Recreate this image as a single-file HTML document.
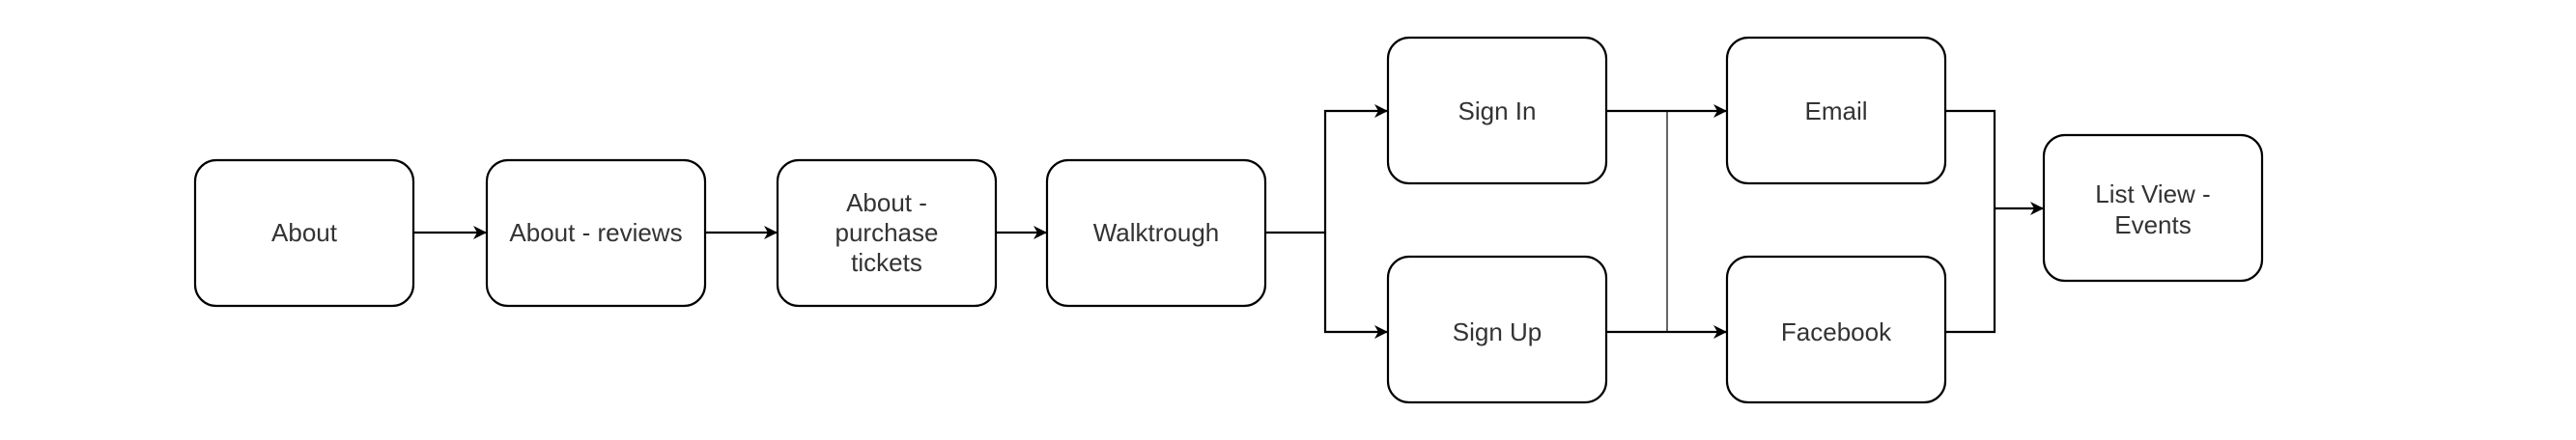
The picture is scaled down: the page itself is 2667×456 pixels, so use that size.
<!DOCTYPE html>
<html><head><meta charset="utf-8"><style>
html,body{margin:0;padding:0;background:#fff;}
svg{display:block;}
text{font-family:"Liberation Sans",Arial,sans-serif;font-size:26px;fill:#333;text-anchor:middle;}
</style></head><body>
<svg width="2667" height="456" viewBox="0 0 2667 456" xmlns="http://www.w3.org/2000/svg">
<defs>
<marker id="a" markerWidth="14" markerHeight="14" refX="13" refY="7" orient="auto" markerUnits="userSpaceOnUse">
<path d="M0,0 L14,7 L0,14 L4,7 Z" fill="#000"/>
</marker>
</defs>
<g fill="#fff" stroke="#000" stroke-width="2.2">
<rect x="202" y="166" width="226" height="151" rx="22"/>
<rect x="504" y="166" width="226" height="151" rx="22"/>
<rect x="805" y="166" width="226" height="151" rx="22"/>
<rect x="1084" y="166" width="226" height="151" rx="22"/>
<rect x="1437" y="39" width="226" height="151" rx="22"/>
<rect x="1437" y="266" width="226" height="151" rx="22"/>
<rect x="1788" y="39" width="226" height="151" rx="22"/>
<rect x="1788" y="266" width="226" height="151" rx="22"/>
<rect x="2116" y="140" width="226" height="151" rx="22"/>
</g>
<g stroke="#000" stroke-width="2.2" fill="none">
<line x1="428" y1="241" x2="503" y2="241" marker-end="url(#a)"/>
<line x1="730" y1="241" x2="804" y2="241" marker-end="url(#a)"/>
<line x1="1031" y1="241" x2="1083" y2="241" marker-end="url(#a)"/>
<polyline points="1310,241 1372,241 1372,115 1436,115" marker-end="url(#a)"/>
<polyline points="1372,241 1372,344 1436,344" marker-end="url(#a)"/>
<line x1="1663" y1="115" x2="1787" y2="115" marker-end="url(#a)"/>
<line x1="1663" y1="344" x2="1787" y2="344" marker-end="url(#a)"/>
<line x1="1726" y1="115" x2="1726" y2="344" stroke-width="1.2"/>
<polyline points="2014,115 2065,115 2065,344 2014,344"/>
<line x1="2065" y1="216" x2="2115" y2="216" marker-end="url(#a)"/>
</g>
<text x="315" y="250">About</text>
<text x="617" y="250">About - reviews</text>
<text x="918" y="219">About -</text>
<text x="918" y="250">purchase</text>
<text x="918" y="281">tickets</text>
<text x="1197" y="250">Walktrough</text>
<text x="1550" y="124">Sign In</text>
<text x="1550" y="353">Sign Up</text>
<text x="1901" y="124">Email</text>
<text x="1901" y="353">Facebook</text>
<text x="2229" y="210">List View -</text>
<text x="2229" y="242">Events</text>
</svg>
</body></html>
